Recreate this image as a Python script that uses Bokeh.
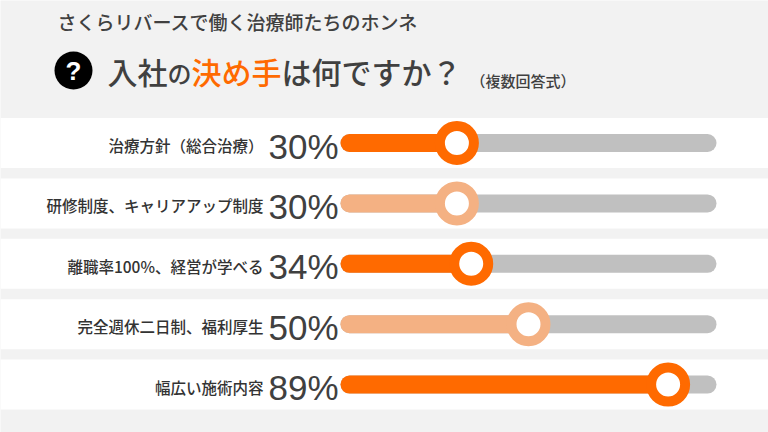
from bokeh.plotting import figure
from bokeh.models import Range1d, Label
from bokeh.core.properties import value
from bokeh.embed import file_html
from bokeh.resources import INLINE

# survey answers (multiple choice), top to bottom
labels = [
    "治療方針（総合治療）",
    "研修制度、キャリアアップ制度",
    "離職率100%、経営が学べる",
    "完全週休二日制、福利厚生",
    "幅広い施術内容",
]
percents = [30, 30, 34, 50, 89]

title_top = "さくらリバースで働く治療師たちのホンネ"
question = [("入社", "gray"), ("の", "gray_small"), ("決め手", "orange"), ("は何ですか？", "gray")]
question_note = "（複数回答式）"

ORANGE = "#ff6a00"
LIGHT = "#f4b183"
GRAY_TEXT = "#404040"
bar_colors = [ORANGE, LIGHT, ORANGE, LIGHT, ORANGE]

JP = "'Noto Sans CJK JP Medium', 'Noto Sans CJK JP'"

# layout in screen pixels
W, H = 768, 432
PX0, PX100 = 349, 707          # screen x of 0% and 100%
ROW0, ROW_STEP = 142.5, 60.4   # screen y (from top) of first row, row spacing
px_per = (PX100 - PX0) / 100

x_start = -PX0 / px_per
x_end = (W - PX0) / px_per
y_top = -ROW0 / ROW_STEP
y_bot = (H - ROW0) / ROW_STEP

p = figure(width=W, height=H,
           x_range=Range1d(x_start, x_end),
           y_range=Range1d(y_bot, y_top),
           x_axis_type=None, y_axis_type=None,
           toolbar_location=None, min_border=0,
           outline_line_color=None,
           background_fill_color="#f2f2f2",
           border_fill_color="#f2f2f2",
           output_backend="svg")
p.grid.visible = False

rows = list(range(len(labels)))

# white row bands
p.hbar(y=rows, left=x_start, right=x_end, height=50 / ROW_STEP,
       fill_color="white", line_color=None)

# gray track, coloured fill, ring marker
p.segment(x0=0, y0=rows, x1=100, y1=rows, line_width=18,
          line_cap="round", line_color="#c0c0c0")
p.segment(x0=0, y0=rows, x1=percents, y1=rows, line_width=18,
          line_cap="round", line_color=bar_colors)
p.scatter(x=percents, y=rows, size=34, fill_color="white",
          line_color=bar_colors, line_width=10)

# labels and percentages
p.text(x=0, y=rows, text=labels, x_offset=-86, y_offset=2,
       text_align="right", text_baseline="middle",
       text_font=value(JP), text_font_size="15.5px", text_color="#333333")
p.text(x=0, y=rows, text=[f"{v}%" for v in percents], x_offset=-11, y_offset=3,
       text_align="right", text_baseline="middle",
       text_font=value("Liberation Sans"), text_font_size="35px",
       text_color=GRAY_TEXT)

# header
p.add_layout(Label(x=57, y=H - 21, x_units="screen", y_units="screen",
                   text=title_top, text_baseline="middle", text_font=JP,
                   text_font_size="19px", text_color=GRAY_TEXT))

qx, qy = 73, 70  # question mark badge (screen, from top)
p.scatter(x=[(qx - PX0) / px_per], y=[(qy - ROW0) / ROW_STEP], size=38,
          fill_color="black", line_color=None)
p.add_layout(Label(x=qx, y=H - qy, x_units="screen", y_units="screen",
                   text="?", text_align="center", text_baseline="middle",
                   text_font="Liberation Sans", text_font_style="bold",
                   text_font_size="26px", text_color="white"))

x = 107
for txt, kind in question:
    size = 24 if kind == "gray_small" else 30
    color = ORANGE if kind == "orange" else GRAY_TEXT
    dy = 2 if kind == "gray_small" else 0
    p.add_layout(Label(x=x, y=H - qy - dy, x_units="screen", y_units="screen",
                       text=txt, text_baseline="middle", text_font=JP,
                       text_font_size=f"{size}px", text_color=color))
    x += size * len(txt)
p.add_layout(Label(x=x + 9, y=H - 80, x_units="screen", y_units="screen",
                   text=question_note, text_baseline="middle", text_font=JP,
                   text_font_size="15px", text_color=GRAY_TEXT))

open("out.html", "w").write(file_html(p, INLINE))
